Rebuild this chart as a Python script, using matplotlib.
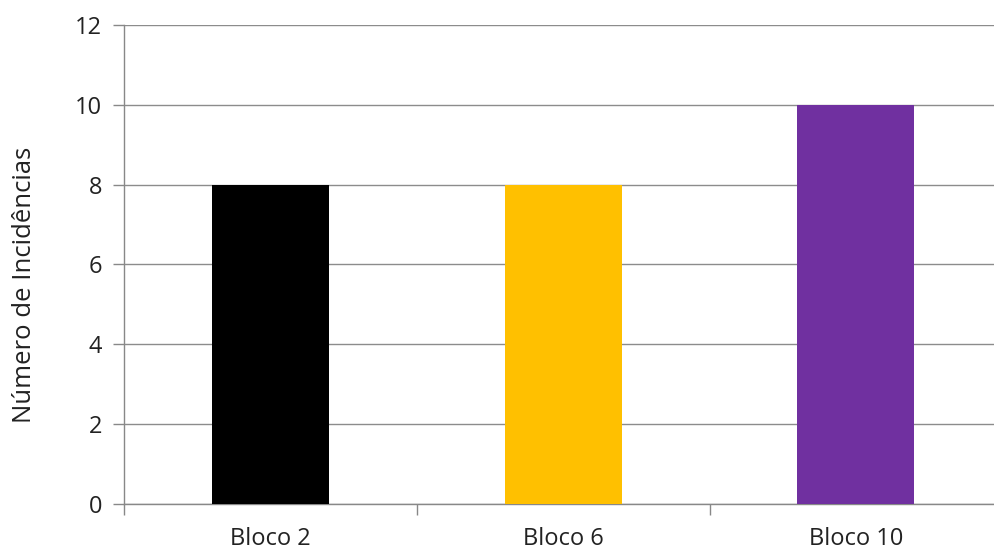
import matplotlib
matplotlib.use('Agg')
import matplotlib.pyplot as plt
import numpy as np

categories = ['Bloco 2', 'Bloco 6', 'Bloco 10']
values = [8, 8, 10]
colors = ['#000000', '#FFC000', '#7030A0']
y_ticks = [0, 2, 4, 6, 8, 10, 12]

plt.rcParams['font.family'] = ['Open Sans', 'DejaVu Sans']

fig = plt.figure(figsize=(9.95, 5.5), dpi=100)
ax = fig.add_axes([0.1251, 0.0845, 0.882, 0.870])

x = np.arange(len(categories))
ax.bar(x, values, width=0.4, color=colors, zorder=3)

ax.set_xlim(-0.5, len(categories) - 0.5)
ax.set_ylim(0, 12)
ax.set_yticks(y_ticks)
ax.set_xticks(x)
ax.set_xticklabels(categories, fontsize=17, color='#222222')
ax.set_xticks(np.arange(len(categories) + 1) - 0.5, minor=True)
ax.tick_params(axis='x', which='major', length=0, pad=17)
ax.tick_params(axis='x', which='minor', length=8, color='#888888', width=1)
ax.tick_params(axis='y', length=8, color='#888888', width=1, labelsize=17,
               labelcolor='#222222', pad=8)

ax.grid(axis='y', color='#8c8c8c', linewidth=1, zorder=0)
for side in ['top', 'right']:
    ax.spines[side].set_visible(False)
for side in ['left', 'bottom']:
    ax.spines[side].set_color('#888888')
    ax.spines[side].set_linewidth(1)

ax.set_ylabel('Número de Incidências', fontsize=18.5, color='#222222')
ax.yaxis.set_label_coords(-0.1, 0.457)

fig.savefig('out.png', dpi=100)
plt.close(fig)
